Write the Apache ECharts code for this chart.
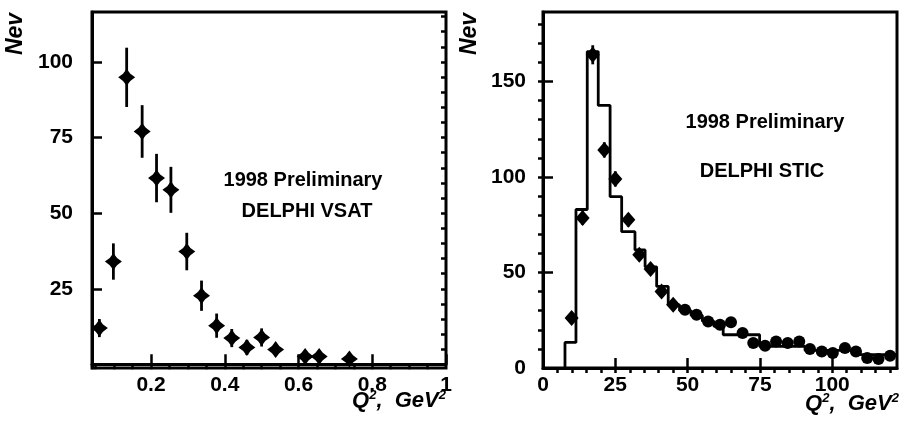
<!DOCTYPE html>
<html>
<head>
<meta charset="utf-8">
<script src="https://cdn.jsdelivr.net/npm/echarts@6/dist/echarts.min.js"></script>
<style>
  html, body { margin: 0; padding: 0; background: #fff; }
  #chart { width: 904px; height: 424px; }
</style>
</head>
<body>
<div id="chart"></div>
<script>
// left panel: DELPHI VSAT
const vsatQ2 = [0.060, 0.098, 0.134, 0.176, 0.215, 0.254, 0.297, 0.337, 0.378, 0.419, 0.460, 0.500, 0.538, 0.618, 0.656, 0.738];
const vsatN = [12.0, 34.0, 94.9, 77.0, 61.6, 57.7, 37.3, 22.7, 12.8, 8.7, 5.6, 8.9, 4.9, 2.6, 2.6, 1.8];
const vsatErr = [3.0, 6.0, 9.8, 8.7, 8.0, 7.6, 6.2, 5.0, 4.0, 3.0, 2.5, 3.0, 2.2, 1.6, 1.6, 1.4];

// right panel: DELPHI STIC, data points + MC histogram
const sticQ2 = [9.9, 13.7, 17.2, 21.2, 25.0, 29.5, 33.3, 37.2, 41.0, 45.0, 49.1, 53.1, 57.1, 61.2, 65.0, 69.0, 72.7, 76.8, 80.6, 84.6, 88.6, 92.3, 96.4, 100.2, 104.4, 108.2, 112.1, 116.0, 120.0];
const sticN = [26.2, 78.5, 164.0, 114.2, 99.0, 77.6, 59.3, 51.8, 40.1, 33.1, 30.5, 27.9, 24.4, 22.7, 23.9, 18.3, 13.1, 11.7, 13.9, 13.1, 13.9, 9.9, 8.7, 7.8, 10.5, 8.7, 5.2, 4.7, 6.4];
const sticErr = [2.5, 3.5, 5.0, 4.0, 4.0, 3.5, 3.0, 3.0, 2.5, 2.0, 2.0, 2.0, 2.0, 2.0, 2.0, 1.5, 1.5, 1.5, 1.5, 1.5, 1.5, 1.5, 1.5, 1.5, 1.5, 1.5, 1.5, 1.5, 1.5];
const mcEdges = [7.6, 11.4, 15.3, 19.1, 23.2, 27.2, 31.8, 35.3, 39.3, 43.3, 47.2, 51.2, 55.1, 59.1, 62.3, 74.9, 90.6, 109.6, 122.4];
const mcN = [13.4, 83.0, 165.7, 137.5, 89.7, 71.4, 61.8, 53.0, 42.7, 33.1, 30.0, 27.5, 24.5, 21.8, 17.4, 11.3, 9.2, 7.0];

// tick values
const vsatXLabels = [0.2, 0.4, 0.6, 0.8, 1];
const vsatXMinor = [0.05, 0.1, 0.15, 0.2, 0.25, 0.3, 0.35, 0.4, 0.45, 0.5, 0.55, 0.6, 0.65, 0.7, 0.75, 0.8, 0.85, 0.9, 0.95];
const vsatYLabels = [25, 50, 75, 100];
const vsatYMinor = [0, 5, 10, 15, 20, 25, 30, 35, 40, 45, 50, 55, 60, 65, 70, 75, 80, 85, 90, 95, 100, 105, 110, 115];
const sticXLabels = [0, 25, 50, 75, 100];
const sticXMinor = [5, 10, 15, 20, 25, 30, 35, 40, 45, 50, 55, 60, 65, 70, 75, 80, 85, 90, 95, 100, 105, 110, 115, 120];
const sticYLabels = [0, 50, 100, 150];
const sticYMinor = [10, 20, 30, 40, 50, 60, 70, 80, 90, 100, 110, 120, 130, 140, 150, 160, 170, 180];

const FONT = '"Liberation Sans", Arial, sans-serif';
const chart = echarts.init(document.getElementById('chart'));

const labelStyle = { color: '#000', fontFamily: FONT, fontWeight: 'bold', fontSize: 21 };

function mainAxis(grid, min, max, labels, margin) {
  return {
    type: 'value', gridIndex: grid, min: min, max: max,
    axisLine: { show: true, lineStyle: { color: '#000', width: 3 } },
    axisTick: { show: true, inside: true, length: 10, customValues: labels, lineStyle: { color: '#000', width: 2.5 } },
    axisLabel: Object.assign({ show: true, margin: margin, customValues: labels, formatter: v => String(v) }, labelStyle),
    splitLine: { show: false }
  };
}
function minorAxis(grid, min, max, ticks) {
  return {
    type: 'value', gridIndex: grid, min: min, max: max,
    axisLine: { show: false },
    axisTick: { show: true, inside: true, length: 5, customValues: ticks, lineStyle: { color: '#000', width: 2.5 } },
    axisLabel: { show: false },
    splitLine: { show: false }
  };
}

function errorBars(xs, ys, errs, halfWidth) {
  return xs.map((x, i) => [x, ys[i], ys[i] - errs[i], ys[i] + errs[i], halfWidth]);
}
function renderErr(params, api) {
  const x = api.value(0);
  const lo = api.coord([x, api.value(2)]);
  const hi = api.coord([x, api.value(3)]);
  const hw = api.value(4);
  const children = [{
    type: 'line',
    shape: { x1: lo[0], y1: lo[1], x2: hi[0], y2: hi[1] },
    style: { stroke: '#000', lineWidth: 2.8 }
  }];
  if (hw > 0) {
    const l = api.coord([x - hw, api.value(1)]);
    const r = api.coord([x + hw, api.value(1)]);
    children.push({
      type: 'line',
      shape: { x1: l[0], y1: l[1], x2: r[0], y2: r[1] },
      style: { stroke: '#000', lineWidth: 2.8 }
    });
  }
  return { type: 'group', children: children };
}

// step outline for the MC histogram
const mcLine = [[mcEdges[0], 0]];
mcN.forEach((v, i) => {
  mcLine.push([mcEdges[i], v]);
  mcLine.push([mcEdges[i + 1], v]);
});

const star = 'path://M0,-10 L4.3,-4.3 L10,0 L4.3,4.3 L0,10 L-4.3,4.3 L-10,0 L-4.3,-4.3 Z';

function axisTitle(x, y) {
  return {
    type: 'text', x: x, y: y,
    style: {
      text: '{a|Q}{s|2}{a|,  GeV}{s|2}',
      align: 'right', textAlign: 'right', verticalAlign: 'middle', textVerticalAlign: 'middle',
      fill: '#000',
      rich: {
        a: { fontFamily: FONT, fontStyle: 'italic', fontWeight: 'bold', fontSize: 22, lineHeight: 24 },
        s: { fontFamily: FONT, fontStyle: 'italic', fontWeight: 'bold', fontSize: 13, verticalAlign: 'top', lineHeight: 24 }
      }
    }
  };
}
function nevTitle(x, y) {
  return {
    type: 'text', x: x, y: y, rotation: Math.PI / 2,
    style: {
      text: 'Nev', font: 'italic bold 23px ' + FONT, fill: '#000',
      align: 'center', textAlign: 'center', verticalAlign: 'middle', textVerticalAlign: 'middle'
    }
  };
}
function note(x, y, text) {
  return {
    type: 'text', x: x, y: y,
    style: {
      text: text, font: 'bold 20px ' + FONT, fill: '#000',
      align: 'center', textAlign: 'center', verticalAlign: 'middle', textVerticalAlign: 'middle'
    }
  };
}

const option = {
  animation: false,
  backgroundColor: '#fff',
  grid: [
    { left: 92, top: 12, width: 354, height: 356, show: true, borderColor: '#000', borderWidth: 3, backgroundColor: 'transparent' },
    { left: 543, top: 12, width: 354, height: 356, show: true, borderColor: '#000', borderWidth: 3, backgroundColor: 'transparent' }
  ],
  xAxis: [
    mainAxis(0, 0.04, 1, vsatXLabels, 7),
    minorAxis(0, 0.04, 1, vsatXMinor),
    mainAxis(1, 0, 122.4, sticXLabels, 7),
    minorAxis(1, 0, 122.4, sticXMinor)
  ],
  yAxis: [
    mainAxis(0, -1.2, 116.5, vsatYLabels, 19),
    minorAxis(0, -1.2, 116.5, vsatYMinor),
    mainAxis(1, 0, 186.4, sticYLabels, 17),
    minorAxis(1, 0, 186.4, sticYMinor)
  ],
  graphic: [
    nevTitle(16, 34),
    nevTitle(470, 34),
    axisTitle(446, 401),
    axisTitle(899, 404),
    note(303, 180, '1998 Preliminary'),
    note(307, 211, 'DELPHI VSAT'),
    note(765, 122, '1998 Preliminary'),
    note(762, 171, 'DELPHI STIC')
  ],
  series: [
    {
      type: 'custom', xAxisIndex: 0, yAxisIndex: 0, clip: true,
      renderItem: renderErr,
      data: errorBars(vsatQ2, vsatN, vsatErr, 0)
    },
    {
      type: 'scatter', xAxisIndex: 0, yAxisIndex: 0,
      symbol: star, symbolSize: 17,
      itemStyle: { color: '#000', opacity: 1 },
      data: vsatQ2.map((x, i) => [x, vsatN[i]])
    },
    {
      type: 'line', xAxisIndex: 2, yAxisIndex: 2, clip: true,
      showSymbol: false, symbol: 'none',
      lineStyle: { color: '#000', width: 2.8 },
      data: mcLine
    },
    {
      type: 'custom', xAxisIndex: 2, yAxisIndex: 2, clip: true,
      renderItem: renderErr,
      data: errorBars(sticQ2, sticN, sticErr, 1.8)
    },
    {
      type: 'scatter', xAxisIndex: 2, yAxisIndex: 2,
      symbol: (v, p) => (p.dataIndex < 10 ? 'diamond' : 'circle'),
      symbolSize: (v, p) => (p.dataIndex < 10 ? [14, 16] : 12),
      itemStyle: { color: '#000', opacity: 1 },
      data: sticQ2.map((x, i) => [x, sticN[i]])
    }
  ]
};

chart.setOption(option);
</script>
</body>
</html>
